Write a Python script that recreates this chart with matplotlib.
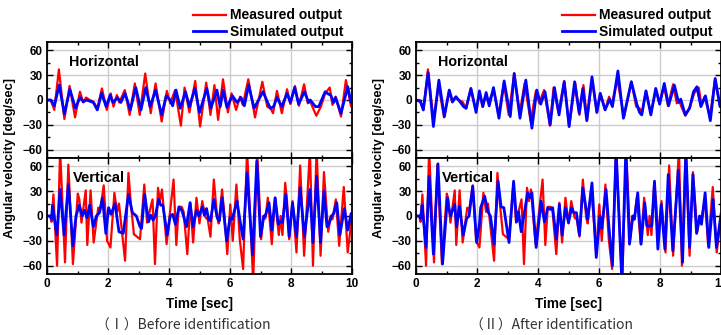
import numpy as np
import matplotlib
matplotlib.use('Agg')
import matplotlib.pyplot as plt
from matplotlib.ticker import MultipleLocator

# ---- horizontal channel: measured output (same record in both panels)
t_h_meas = [0, 0.12, 0.24, 0.39, 0.57, 0.74, 0.92, 1.08, 1.19, 1.28, 1.40, 1.52, 1.65, 1.80, 1.96,
            2.09, 2.18, 2.29, 2.37, 2.55, 2.71, 2.88, 3.04, 3.22, 3.40, 3.56, 3.76, 3.93, 4.04, 4.20,
            4.39, 4.51, 4.67, 4.86, 5.02, 5.22, 5.36, 5.49, 5.61, 5.77, 5.93, 6.05, 6.20, 6.33, 6.42,
            6.60, 6.82, 7.06, 7.22, 7.33, 7.41, 7.54, 7.70, 7.87, 7.98, 8.13, 8.26, 8.43, 8.55, 8.62,
            8.70, 8.83, 8.98, 9.12, 9.27, 9.36, 9.46, 9.64, 9.80, 9.97, 10.0]
h_meas = [0, 0, -12, 37, -23, 17, -21, 10, -3, 3, 0, -2, -10, 14, -12,
          8, -8, 6, -3, 12, -18, 20, -18, 32, -16, 20, -26, 11, -4, 12,
          -31, 15, -15, 23, -32, 21, -18, 18, -24, 25, -15, 8, -12, 4, -6,
          25, -21, 22, -8, -10, -16, 11, -16, 13, -5, 17, -7, 19, -4, 0,
          -8, -19, -8, 8, 15, -6, 4, -20, 24, -8, -6]

# horizontal channel: simulated output before identification
t_h_before = [0, 0.12, 0.24, 0.40, 0.57, 0.75, 0.93, 1.08, 1.19, 1.30, 1.52, 1.65, 1.79, 1.94, 2.07,
              2.16, 2.31, 2.42, 2.56, 2.73, 2.91, 3.08, 3.24, 3.38, 3.56, 3.76, 3.91, 4.04, 4.12, 4.23,
              4.37, 4.54, 4.67, 4.85, 5.00, 5.24, 5.37, 5.57, 5.68, 5.77, 5.90, 6.01, 6.08, 6.23, 6.36,
              6.47, 6.61, 6.79, 7.08, 7.32, 7.43, 7.54, 7.70, 7.87, 7.98, 8.12, 8.25, 8.44, 8.58, 8.63,
              8.80, 8.91, 9.12, 9.23, 9.30, 9.40, 9.46, 9.64, 9.86, 9.97, 10.0]
h_before = [0, 0, -7, 18, -17, 13, -10, 3, -2, 0, -3, -12, 8, -8, 6,
            -3, 3, -3, 8, -12, 15, -12, 15, -8, 12, -18, 5, 0, -7, 12,
            -10, 10, -8, 14, -15, 14, -10, 12, -8, 12, -9, 0, 5, -3, 3,
            -7, 18, -10, 10, -10, -8, 3, -8, 8, -3, 15, -5, 10, -3, 0,
            -8, -8, 10, 7, 6, -3, 3, -16, 16, -3, -2]

# horizontal channel: simulated output after identification
t_h_after = [0, 0.15, 0.24, 0.40, 0.57, 0.75, 0.93, 1.09, 1.20, 1.31, 1.44, 1.56, 1.64, 1.80, 1.97,
             2.08, 2.19, 2.30, 2.40, 2.54, 2.72, 2.89, 3.09, 3.22, 3.41, 3.60, 3.80, 3.96, 4.09, 4.23,
             4.40, 4.54, 4.69, 4.86, 5.02, 5.20, 5.35, 5.47, 5.60, 5.77, 5.93, 6.04, 6.20, 6.35, 6.44,
             6.62, 6.80, 7.06, 7.24, 7.33, 7.40, 7.54, 7.70, 7.86, 7.99, 8.14, 8.28, 8.47, 8.61, 8.68,
             8.75, 8.83, 8.97, 9.10, 9.21, 9.34, 9.49, 9.65, 9.81, 9.97, 10.0]
h_after = [0, -2, -12, 33, -32, 24, -20, 12, -2, 4, -2, -8, -10, 14, -15,
           11, -8, 9, -7, 15, -22, 23, -20, 32, -22, 24, -34, 12, -5, 10,
           -30, 15, -18, 22, -32, 22, -16, 14, -25, 28, -15, 8, -12, 1, -8,
           35, -22, 22, -5, -15, -18, 11, -18, 14, -5, 20, -7, 18, -3, 1,
           -8, -18, -10, 10, 16, -8, 5, -25, 26, -8, -6]

# ---- vertical channel: measured output
t_v_meas = [0, 0.10, 0.15, 0.21, 0.33, 0.43, 0.59, 0.70, 0.85, 1.01, 1.06, 1.13, 1.27, 1.32, 1.43,
            1.53, 1.68, 1.74, 1.86, 1.97, 2.08, 2.21, 2.30, 2.36, 2.56, 2.67, 2.75, 2.85, 3.05, 3.19,
            3.28, 3.36, 3.46, 3.54, 3.64, 3.70, 3.77, 3.92, 4.15, 4.24, 4.32, 4.42, 4.48, 4.60, 4.70,
            4.79, 4.90, 5.00, 5.09, 5.20, 5.27, 5.36, 5.47, 5.58, 5.63, 5.74, 5.82, 5.91, 6.01, 6.09,
            6.21, 6.32, 6.43, 6.56, 6.76, 6.89, 7.02, 7.10, 7.16, 7.24, 7.37, 7.48, 7.60, 7.66, 7.72,
            7.81, 7.87, 7.94, 8.05, 8.18, 8.30, 8.43, 8.62, 8.72, 8.84, 8.97, 9.08, 9.22, 9.30, 9.36,
            9.47, 9.58, 9.73, 9.86, 10.0]
v_meas = [0, 0, -7, 26, -60, 80, -56, 62, -58, 27, 20, -8, 31, -35, 31,
          -32, 10, 6, 37, -30, -38, 28, 5, 15, -54, 52, 15, -22, -28, 38,
          -8, 5, 20, -58, 34, 18, 32, -34, 44, -35, 11, 11, 5, -46, 16,
          -32, 22, -9, 18, -2, -4, -25, 44, -2, -9, 32, 0, -46, 14, -30,
          38, -28, -64, 80, -80, 80, -28, 0, -3, 22, -34, 22, -23, 0, -23,
          40, 18, -28, 18, -44, 61, -48, 80, -60, 80, -48, 53, -19, 0, -4,
          20, -36, 35, -44, 0]

# vertical channel: simulated output before identification
t_v_before = [0, 0.12, 0.15, 0.18, 0.32, 0.43, 0.56, 0.70, 0.85, 0.95, 1.06, 1.15, 1.23, 1.31, 1.40,
              1.52, 1.62, 1.72, 1.82, 1.93, 2.02, 2.10, 2.23, 2.36, 2.50, 2.67, 2.80, 2.93, 3.05, 3.10,
              3.20, 3.33, 3.40, 3.48, 3.55, 3.66, 3.73, 3.80, 3.94, 4.04, 4.12, 4.21, 4.33, 4.43, 4.52,
              4.57, 4.69, 4.79, 4.90, 4.98, 5.09, 5.16, 5.23, 5.30, 5.36, 5.47, 5.58, 5.65, 5.74, 5.89,
              6.00, 6.07, 6.18, 6.23, 6.33, 6.43, 6.56, 6.74, 6.88, 7.00, 7.11, 7.16, 7.28, 7.37, 7.48,
              7.58, 7.66, 7.72, 7.83, 7.94, 8.05, 8.18, 8.30, 8.44, 8.62, 8.72, 8.84, 8.97, 9.08, 9.18,
              9.24, 9.33, 9.40, 9.50, 9.60, 9.75, 9.86, 9.97, 10.0]
v_before = [0, 0, -4, 13, -23, 32, -23, 38, -36, 0, 13, 0, 7, -2, 13,
            -13, 0, 4, 22, -21, 10, 2, 15, -19, -21, 26, 4, 0, -13, -15,
            26, -7, 1, -5, 0, 20, 13, 13, -23, 0, 2, -10, 11, 6, -6,
            -13, 16, -13, 7, 0, 11, 1, 9, -4, -6, 20, -2, -6, 22, -30,
            -2, -4, 11, 18, -6, -28, 52, -47, 66, -25, 0, 0, 16, -17, 22,
            -10, -6, -8, 26, -25, 16, -25, 34, -25, 32, -32, 48, -32, 30, -13,
            -10, 0, 3, 16, -23, 9, -17, 3, 3]

# vertical channel: simulated output after identification
t_v_after = [0, 0.12, 0.15, 0.20, 0.33, 0.43, 0.57, 0.72, 0.87, 1.03, 1.06, 1.13, 1.27, 1.33, 1.42,
             1.55, 1.66, 1.74, 1.86, 1.99, 2.08, 2.12, 2.25, 2.36, 2.44, 2.56, 2.69, 2.79, 2.88, 3.05,
             3.20, 3.30, 3.36, 3.45, 3.66, 3.73, 3.80, 3.94, 4.10, 4.21, 4.32, 4.40, 4.48, 4.60, 4.70,
             4.79, 4.90, 5.00, 5.10, 5.17, 5.26, 5.36, 5.47, 5.58, 5.63, 5.77, 5.91, 6.03, 6.09, 6.23,
             6.33, 6.44, 6.56, 6.75, 6.88, 7.00, 7.11, 7.16, 7.27, 7.38, 7.50, 7.57, 7.66, 7.73, 7.82,
             7.93, 8.04, 8.16, 8.27, 8.42, 8.60, 8.74, 8.85, 8.97, 9.08, 9.20, 9.30, 9.36, 9.48, 9.60,
             9.74, 9.85, 10.0]
v_after = [0, 0, -3, 13, -38, 48, -46, 63, -58, 22, 13, 0, 14, -13, 12,
           -23, -3, 0, 36, -32, -10, 10, 24, 5, 0, -34, 42, 11, 10, -32,
           42, -7, 5, -19, 28, 22, 28, -38, 18, -7, 10, 8, 10, -28, 14,
           -23, 10, -8, 10, 4, 4, -23, 34, 8, -4, 40, -50, 0, -15, 32,
           -15, -60, 80, -80, 80, -34, 0, -4, 28, -34, 16, -12, -12, -12, 42,
           -40, 14, -40, 50, -42, 55, -56, 80, -38, 50, -21, 0, -10, 28, -38,
           20, -38, 2]

yticks = [-60, -30, 0, 30, 60]
xticks = [0, 2, 4, 6, 8, 10]
series_names = ['Measured output', 'Simulated output']
captions = ['（Ⅰ）Before identification', '（Ⅱ）After identification']

plt.rcParams['font.family'] = ['Liberation Sans', 'DejaVu Sans']
plt.rcParams['font.weight'] = 'bold'
plt.rcParams['axes.labelweight'] = 'bold'

W, H = 721, 335
fig = plt.figure(figsize=(W / 100, H / 100), dpi=100)


def setup(ax, bottom):
    ax.set_xlim(0, 10)
    ax.set_ylim(-70, 70)
    ax.set_xticks(xticks)
    ax.set_yticks(yticks)
    ax.xaxis.set_minor_locator(MultipleLocator(1))
    ax.yaxis.set_minor_locator(MultipleLocator(15))
    ax.grid(which='major', color='#cccccc', lw=1)
    ax.set_axisbelow(True)
    ax.tick_params(which='both', direction='in', top=True, right=True,
                   width=1, labelsize=8.5, pad=3)
    ax.tick_params(which='major', length=4)
    ax.tick_params(which='minor', length=2.5)
    for s in ax.spines.values():
        s.set_linewidth(1.3)
    if not bottom:
        ax.tick_params(labelbottom=False)
    else:
        ax.set_xlabel('Time [sec]', fontsize=9.8, labelpad=5)


panels = [
    (47, h_before, t_h_before, v_before, t_v_before, 0.985),
    (416, h_after, t_h_after, v_after, t_v_after, 0.985),
]

for i, (x0, hs, ths, vs, tvs, lx) in enumerate(panels):
    left = x0 / W
    width = 305 / W
    ax_h = fig.add_axes([left, 1 - 158 / H, width, 116 / H])
    ax_v = fig.add_axes([left, 1 - 274 / H, width, 116 / H])
    setup(ax_h, False)
    setup(ax_v, True)

    l1, = ax_h.plot(t_h_meas, h_meas, color='#ff0000', lw=1.6)
    l2, = ax_h.plot(ths, hs, color='#0000ff', lw=2.0)
    ax_v.plot(t_v_meas, v_meas, color='#ff0000', lw=1.6)
    ax_v.plot(tvs, vs, color='#0000ff', lw=2.0)

    ax_h.text(0.072, 0.83, 'Horizontal', transform=ax_h.transAxes,
              fontsize=10.3, va='center', ha='left')
    ax_v.text(0.085, 0.83, 'Vertical', transform=ax_v.transAxes,
              fontsize=10.5, va='center', ha='left')

    ax_h.legend([l1, l2], series_names, loc='lower right', bbox_to_anchor=(lx, 1.0),
                frameon=False, fontsize=10, handlelength=2.4, handletextpad=0.3,
                labelspacing=0.15, borderaxespad=0.15, borderpad=0.1)

    fig.text((x0 - 37) / W, 1 - 158 / H, 'Angular velocity [deg/sec]', rotation=90,
             fontsize=9.3, ha='center', va='center')
    fig.text((x0 + 136) / W, 1 - 326 / H, captions[i], fontsize=10, fontweight='normal',
             color='#333333', ha='center', va='center',
             family=['Noto Sans CJK SC', 'DejaVu Sans'])

fig.savefig('out.png', dpi=100)
